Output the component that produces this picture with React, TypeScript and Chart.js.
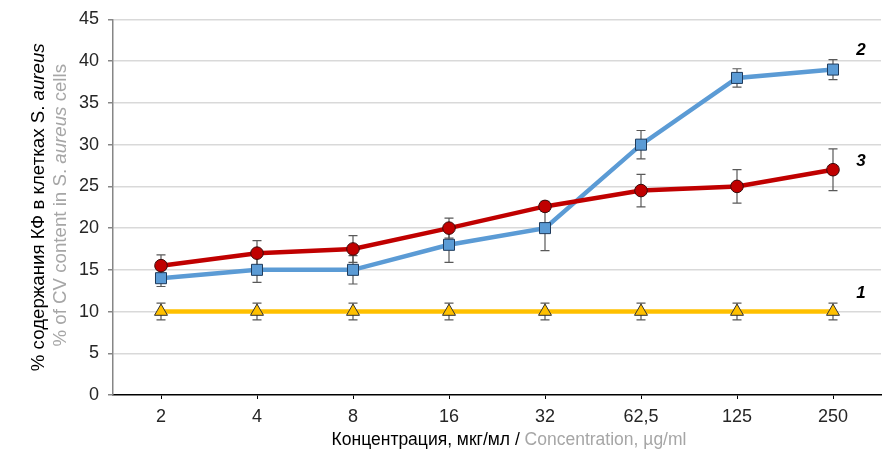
import React, { useEffect, useRef } from 'react';
import { Chart, registerables } from 'chart.js';

Chart.register(...registerables);

const categories = ['2', '4', '8', '16', '32', '62,5', '125', '250'];
const series1 = [10, 10, 10, 10, 10, 10, 10, 10];
const series1Err = [1, 1, 1, 1, 1, 1, 1, 1];
const series2 = [14, 15, 15, 18, 20, 30, 38, 39];
const series2Err = [1, 1.5, 1.7, 2.1, 2.7, 1.7, 1.1, 1.2];
const series3 = [15.5, 17, 17.5, 20, 22.6, 24.5, 25, 27];
const series3Err = [1.3, 1.5, 1.6, 1.2, 0.6, 1.95, 2, 2.5];
const seriesNames = ['3', '2', '1'];
const seriesLabelValues = [28.0, 41.3, 12.2];
const yMin = 0;
const yMax = 45;
const yStep = 5;

const yTitleRu = ['% содержания КФ в клетках S. ', 'aureus'];
const yTitleEn = ['% of CV content in S. ', 'aureus', ' cells'];
const xTitleRu = 'Концентрация, мкг/мл / ';
const xTitleEn = 'Concentration, µg/ml';

const FONT = '"Liberation Sans", Arial, sans-serif';
const Y_TITLE_SIZE = 18.7;
const X_TITLE_SIZE = 17.5;
const TICK_SIZE = 18;

const errorBarsPlugin = {
  id: 'errorBars',
  beforeDatasetsDraw(chart: any) {
    const ctx = chart.ctx;
    const yScale = chart.scales.y;
    ctx.save();
    ctx.strokeStyle = '#595959';
    ctx.lineWidth = 1.2;
    chart.data.datasets.forEach((ds: any, i: number) => {
      const meta = chart.getDatasetMeta(i);
      const errs: number[] = ds.errors || [];
      meta.data.forEach((pt: any, j: number) => {
        const v = ds.data[j];
        const e = errs[j];
        if (e == null) return;
        const x = pt.x;
        const yTop = yScale.getPixelForValue(v + e);
        const yBot = yScale.getPixelForValue(v - e);
        ctx.beginPath();
        ctx.moveTo(x, yTop);
        ctx.lineTo(x, yBot);
        ctx.moveTo(x - 4.5, yTop);
        ctx.lineTo(x + 4.5, yTop);
        ctx.moveTo(x - 4.5, yBot);
        ctx.lineTo(x + 4.5, yBot);
        ctx.stroke();
      });
    });
    ctx.restore();
  },
};

function drawMixed(ctx: CanvasRenderingContext2D, parts: { text: string; italic: boolean; color: string; bold?: boolean }[], cx: number, cy: number, size: number) {
  const fontFor = (p: any) => `${p.italic ? 'italic ' : ''}${p.bold ? 'bold ' : ''}${size}px ${FONT}`;
  let total = 0;
  const widths = parts.map((p) => {
    ctx.font = fontFor(p);
    const w = ctx.measureText(p.text).width;
    total += w;
    return w;
  });
  let x = cx - total / 2;
  ctx.textBaseline = 'middle';
  ctx.textAlign = 'left';
  parts.forEach((p, i) => {
    ctx.font = fontFor(p);
    ctx.fillStyle = p.color;
    ctx.fillText(p.text, x, cy);
    x += widths[i];
  });
}

const annotationsPlugin = {
  id: 'annotations',
  afterDraw(chart: any) {
    const ctx = chart.ctx as CanvasRenderingContext2D;
    const yScale = chart.scales.y;
    const area = chart.chartArea;
    ctx.save();
    chart.data.datasets.forEach((ds: any, i: number) => {
      const meta = chart.getDatasetMeta(i);
      const last = meta.data[meta.data.length - 1];
      const x = last.x + 28;
      const y = yScale.getPixelForValue(seriesLabelValues[i]);
      ctx.font = `italic bold 17px ${FONT}`;
      ctx.fillStyle = '#000';
      ctx.textAlign = 'center';
      ctx.textBaseline = 'middle';
      ctx.fillText(seriesNames[i], x, y);
    });
    ctx.restore();

    const cy = (area.top + area.bottom) / 2;
    ctx.save();
    ctx.translate(39, cy);
    ctx.rotate(-Math.PI / 2);
    drawMixed(ctx, [
      { text: yTitleRu[0], italic: false, color: '#000' },
      { text: yTitleRu[1], italic: true, color: '#000' },
    ], 0, 0, Y_TITLE_SIZE);
    ctx.restore();
    ctx.save();
    ctx.translate(61, cy - 2);
    ctx.rotate(-Math.PI / 2);
    drawMixed(ctx, [
      { text: yTitleEn[0], italic: false, color: '#a6a6a6' },
      { text: yTitleEn[1], italic: true, color: '#a6a6a6' },
      { text: yTitleEn[2], italic: false, color: '#a6a6a6' },
    ], 0, 0, Y_TITLE_SIZE);
    ctx.restore();

    ctx.save();
    drawMixed(ctx, [
      { text: xTitleRu, italic: false, color: '#000' },
      { text: xTitleEn, italic: false, color: '#a6a6a6' },
    ], (area.left + area.right) / 2 + 12, 440, X_TITLE_SIZE);
    ctx.restore();
  },
};

export default function App() {
  const ref = useRef<HTMLCanvasElement | null>(null);

  useEffect(() => {
    document.body.style.margin = '0';
    if (!ref.current) return;
    const chart = new Chart(ref.current, {
      type: 'line',
      data: {
        labels: categories,
        datasets: [
          {
            data: series3,
            errors: series3Err,
            borderColor: '#C00000',
            backgroundColor: '#C00000',
            borderWidth: 4.5,
            pointStyle: 'circle',
            pointRadius: 6.3,
            pointBorderColor: '#3a0a0a',
            pointBorderWidth: 1,
            pointBackgroundColor: '#C00000',
            clip: false,
          } as any,
          {
            data: series2,
            errors: series2Err,
            borderColor: '#5B9BD5',
            backgroundColor: '#5B9BD5',
            borderWidth: 4.5,
            pointStyle: 'rect',
            pointRadius: 7.8,
            pointBorderColor: '#1F3B5C',
            pointBorderWidth: 1,
            pointBackgroundColor: '#5B9BD5',
            clip: false,
          } as any,
          {
            data: series1,
            errors: series1Err,
            borderColor: '#FFC000',
            backgroundColor: '#FFC000',
            borderWidth: 4.5,
            pointStyle: 'triangle',
            pointRadius: 7.5,
            pointBorderColor: '#333333',
            pointBorderWidth: 1,
            pointBackgroundColor: '#FFC000',
            clip: false,
          } as any,
        ],
      },
      options: {
        animation: false,
        responsive: false,
        maintainAspectRatio: false,
        layout: { autoPadding: false, padding: { top: 19.5, right: 2, left: 0, bottom: 0 } },
        plugins: {
          legend: { display: false },
          tooltip: { enabled: false },
        },
        scales: {
          x: {
            offset: true,
            grid: {
              offset: false,
              drawOnChartArea: false,
              drawTicks: true,
              tickLength: 4,
              tickColor: '#000',
            },
            border: { display: true, color: '#000', width: 1.5 },
            ticks: {
              color: '#262626',
              font: { family: FONT, size: TICK_SIZE },
              padding: 7,
              maxRotation: 0,
              autoSkip: false,
            },
            afterFit: (s: any) => {
              s.height = 64;
              s.paddingLeft = 0;
              s.paddingRight = 0;
            },
          },
          y: {
            min: yMin,
            max: yMax,
            grid: {
              color: (c: any) => (c.tick && c.tick.value === 0 ? 'rgba(0,0,0,0)' : '#D9D9D9'),
              lineWidth: 1.5,
              drawTicks: true,
              tickLength: 5,
              tickColor: '#868686',
            },
            border: { display: true, color: '#868686', width: 1.5 },
            ticks: {
              stepSize: yStep,
              color: '#262626',
              font: { family: FONT, size: TICK_SIZE },
              padding: 9,
            },
            afterFit: (s: any) => {
              s.width = 113;
              s.paddingTop = 0;
              s.paddingBottom = 0;
            },
          },
        },
      } as any,
      plugins: [errorBarsPlugin, annotationsPlugin],
    });
    return () => chart.destroy();
  }, []);

  return (
    <div style={{ width: 883, height: 459 }}>
      <canvas ref={ref} width={883} height={459} style={{ width: 883, height: 459, display: 'block' }} />
    </div>
  );
}
